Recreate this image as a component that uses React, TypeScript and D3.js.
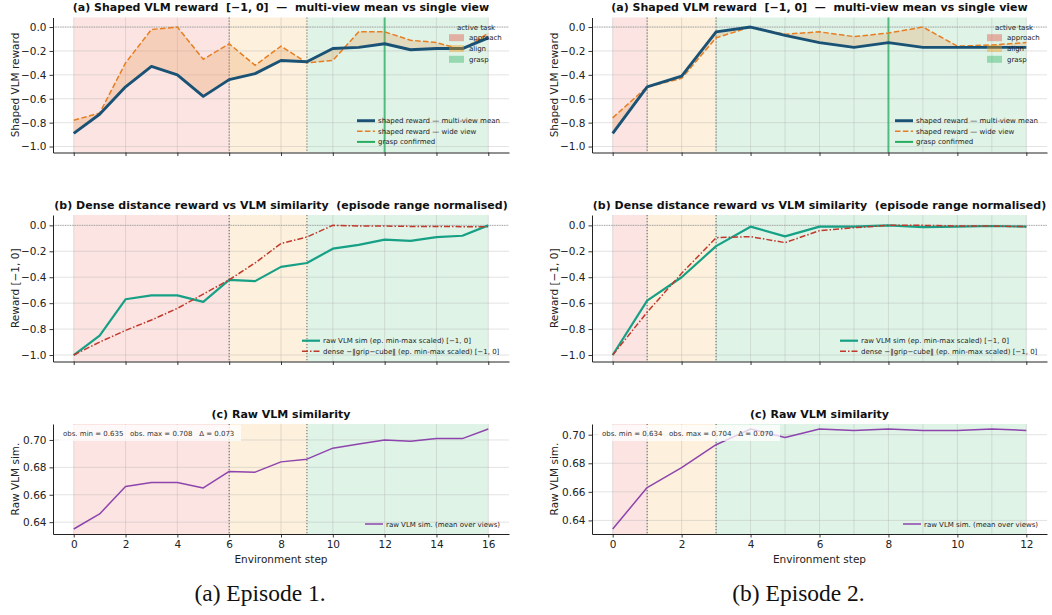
import React, { useEffect, useRef } from 'react';
import * as d3 from 'd3';

const W = 1052;
const H = 615;
const FONT = '"DejaVu Sans", sans-serif';

const phaseNames = ['approach', 'align', 'grasp'];
const phaseColors = ['#e74c3c', '#f39c12', '#27ae60'];

const rewardTicks = [-1.0, -0.8, -0.6, -0.4, -0.2, 0.0];
const simTicks = [0.64, 0.66, 0.68, 0.7];

// episode 1
const ep1StepTicks = [0, 2, 4, 6, 8, 10, 12, 14, 16];
const ep1GridSteps = [0, 2, 4, 6, 8, 10, 12, 14, 16];
const ep1PhaseEdges = [0, 6, 9, 16];
const ep1GraspStep = 12;
const ep1MeanReward = [-0.89, -0.73, -0.5, -0.33, -0.4, -0.58, -0.44, -0.39, -0.28, -0.29, -0.18, -0.17, -0.14, -0.19, -0.18, -0.18, -0.09];
const ep1WideReward = [-0.78, -0.72, -0.3, -0.02, 0.0, -0.27, -0.14, -0.32, -0.16, -0.3, -0.28, -0.04, -0.04, -0.11, -0.13, -0.19, -0.05];
const ep1VlmScaled = [-1.0, -0.85, -0.57, -0.54, -0.54, -0.59, -0.42, -0.43, -0.32, -0.29, -0.18, -0.15, -0.11, -0.12, -0.09, -0.08, 0.0];
const ep1DenseScaled = [-1.0, -0.9, -0.81, -0.73, -0.64, -0.53, -0.42, -0.29, -0.14, -0.09, 0.0, -0.005, -0.005, -0.008, -0.008, -0.01, -0.01];
const ep1RawSim = [0.635, 0.646, 0.666, 0.669, 0.669, 0.665, 0.677, 0.6765, 0.684, 0.686, 0.694, 0.697, 0.7, 0.699, 0.701, 0.701, 0.708];

// episode 2
const ep2StepTicks = [0, 2, 4, 6, 8, 10, 12];
const ep2GridSteps = [0, 1, 2, 3, 4, 5, 6, 7, 8, 9, 10, 11, 12];
const ep2PhaseEdges = [0, 1, 3, 12];
const ep2GraspStep = 8;
const ep2MeanReward = [-0.89, -0.5, -0.41, -0.04, 0.0, -0.07, -0.13, -0.17, -0.13, -0.17, -0.17, -0.17, -0.17];
const ep2WideReward = [-0.76, -0.5, -0.43, -0.09, 0.0, -0.06, -0.04, -0.08, -0.05, 0.0, -0.16, -0.15, -0.13];
const ep2VlmScaled = [-1.0, -0.58, -0.4, -0.16, -0.01, -0.085, -0.01, -0.01, 0.0, -0.013, -0.01, -0.005, -0.01];
const ep2DenseScaled = [-1.0, -0.67, -0.37, -0.095, -0.087, -0.133, -0.041, -0.018, 0.0, 0.0, -0.005, -0.005, -0.01];
const ep2RawSim = [0.634, 0.663, 0.677, 0.693, 0.704, 0.698, 0.704, 0.703, 0.704, 0.703, 0.703, 0.704, 0.703];

const episodes = [
  { caption: '(a) Episode 1.', ticks: ep1StepTicks, grid: ep1GridSteps, edges: ep1PhaseEdges, grasp: ep1GraspStep,
    mean: ep1MeanReward, wide: ep1WideReward, vlm: ep1VlmScaled, dense: ep1DenseScaled, raw: ep1RawSim, left: 53, right: 509 },
  { caption: '(b) Episode 2.', ticks: ep2StepTicks, grid: ep2GridSteps, edges: ep2PhaseEdges, grasp: ep2GraspStep,
    mean: ep2MeanReward, wide: ep2WideReward, vlm: ep2VlmScaled, dense: ep2DenseScaled, raw: ep2RawSim, left: 592, right: 1047 },
];

const rows = [
  { top: 17.5, bottom: 152.5, title: '(a) Shaped VLM reward  [\u22121, 0]  \u2014  multi-view mean vs single view', ylabel: 'Shaped VLM reward' },
  { top: 215, bottom: 361.5, title: '(b) Dense distance reward vs VLM similarity  (episode range normalised)', ylabel: 'Reward [\u22121, 0]' },
  { top: 424, bottom: 534, title: '(c) Raw VLM similarity', ylabel: 'Raw VLM sim.' },
];

const fmtMinus = (s: string) => s.replace('-', '\u2212');

function drawEpisode(svg: any, ep: any) {
  const n = ep.mean.length - 1;
  const x = d3.scaleLinear().domain([-0.05 * n, 1.05 * n]).range([ep.left, ep.right]);
  const cx = (ep.left + ep.right) / 2;

  rows.forEach((row, ri) => {
    const g = svg.append('g');
    let y: any;
    if (ri < 2) {
      y = d3.scaleLinear().domain([-1.05, 0.08]).range([row.bottom, row.top]);
    } else {
      const lo = d3.min(ep.raw) as number, hi = d3.max(ep.raw) as number;
      const pad = (hi - lo) * 0.05;
      y = d3.scaleLinear().domain([lo - pad, hi + pad]).range([row.bottom, row.top]);
    }
    const yTicks = ri < 2 ? rewardTicks : simTicks;

    // phase shading
    phaseNames.forEach((p, i) => {
      g.append('rect')
        .attr('x', x(ep.edges[i])).attr('y', row.top)
        .attr('width', x(ep.edges[i + 1]) - x(ep.edges[i]))
        .attr('height', row.bottom - row.top)
        .attr('fill', phaseColors[i]).attr('fill-opacity', 0.15);
    });

    // grid
    g.selectAll('.hg').data(yTicks).join('line')
      .attr('x1', ep.left).attr('x2', ep.right)
      .attr('y1', (d: number) => y(d)).attr('y2', (d: number) => y(d))
      .attr('stroke', '#b0b0b0').attr('stroke-opacity', 0.35).attr('stroke-width', 1);
    g.selectAll('.vg').data(ep.grid).join('line')
      .attr('x1', (d: number) => x(d)).attr('x2', (d: number) => x(d))
      .attr('y1', row.top).attr('y2', row.bottom)
      .attr('stroke', '#b0b0b0').attr('stroke-opacity', 0.35).attr('stroke-width', 1);

    // phase boundaries
    [ep.edges[1], ep.edges[2]].forEach((b: number) => {
      g.append('line').attr('x1', x(b)).attr('x2', x(b)).attr('y1', row.top).attr('y2', row.bottom)
        .attr('stroke', '#555').attr('stroke-width', 0.9).attr('stroke-dasharray', '1.2,1.8');
    });

    if (ri < 2) {
      g.append('line').attr('x1', ep.left).attr('x2', ep.right).attr('y1', y(0)).attr('y2', y(0))
        .attr('stroke', '#999').attr('stroke-width', 0.8).attr('stroke-dasharray', '1.2,1.2');
    }

    const line = (vals: number[]) => d3.line<number>().x((_, i) => x(i)).y(d => y(d))(vals);

    if (ri === 0) {
      g.append('line').attr('x1', x(ep.grasp)).attr('x2', x(ep.grasp)).attr('y1', row.top).attr('y2', row.bottom)
        .attr('stroke', '#27ae60').attr('stroke-opacity', 0.75).attr('stroke-width', 2);
      const area = d3.area<number>().x((_, i) => x(i)).y0((_, i) => y(ep.mean[i])).y1(d => y(d));
      g.append('path').attr('d', area(ep.wide)).attr('fill', '#e67e22').attr('fill-opacity', 0.2);
      g.append('path').attr('d', line(ep.wide)).attr('fill', 'none').attr('stroke', '#e67e22')
        .attr('stroke-width', 1.5).attr('stroke-dasharray', '5.5,2.4');
      g.append('path').attr('d', line(ep.mean)).attr('fill', 'none').attr('stroke', '#1a5276')
        .attr('stroke-width', 2.9).attr('stroke-linejoin', 'round');

      // active task legend
      const lx = ep.right - 60;
      g.append('text').attr('x', lx + 27).attr('y', 30).attr('text-anchor', 'middle')
        .attr('font-size', 7).attr('font-family', FONT).attr('fill', '#222').text('active task');
      phaseNames.forEach((p, i) => {
        const ry = 37.7 + i * 10.8;
        g.append('rect').attr('x', lx).attr('y', ry - 3.5).attr('width', 15).attr('height', 7)
          .attr('fill', phaseColors[i]).attr('fill-opacity', 0.4);
        g.append('text').attr('x', lx + 20).attr('y', ry + 2.5).attr('font-size', 7)
          .attr('font-family', FONT).attr('fill', '#222').text(p);
      });

      const items = [
        { label: 'shaped reward \u2014 multi-view mean', color: '#1a5276', w: 2.9, dash: null },
        { label: 'shaped reward \u2014 wide view', color: '#e67e22', w: 1.5, dash: '5.5,2.4' },
        { label: 'grasp confirmed', color: '#27ae60', w: 2, dash: null },
      ];
      drawLegend(g, items, ep.right - 152, 120.7);
    } else if (ri === 1) {
      g.append('path').attr('d', line(ep.vlm)).attr('fill', 'none').attr('stroke', '#16a085')
        .attr('stroke-width', 2.2).attr('stroke-linejoin', 'round');
      g.append('path').attr('d', line(ep.dense)).attr('fill', 'none').attr('stroke', '#c0392b')
        .attr('stroke-width', 1.5).attr('stroke-dasharray', '6,2,1.5,2');
      drawLegend(g, [
        { label: 'raw VLM sim (ep. min-max scaled) [\u22121, 0]', color: '#16a085', w: 2.2, dash: null },
        { label: 'dense \u2212\u2016grip\u2212cube\u2016 (ep. min-max scaled) [\u22121, 0]', color: '#c0392b', w: 1.5, dash: '6,2,1.5,2' },
      ], ep.right - 207, 340.7);
    } else {
      g.append('path').attr('d', line(ep.raw)).attr('fill', 'none').attr('stroke', '#8e44ad')
        .attr('stroke-width', 1.5).attr('stroke-linejoin', 'round');
      drawLegend(g, [{ label: 'raw VLM sim. (mean over views)', color: '#8e44ad', w: 1.5, dash: null }], ep.right - 144, 524);
      const lo = d3.min(ep.raw) as number, hi = d3.max(ep.raw) as number;
      const f = d3.format('.3f');
      g.append('rect').attr('x', ep.left + 6).attr('y', row.top + 1).attr('width', 182).attr('height', 16)
        .attr('fill', 'white').attr('fill-opacity', 0.75);
      g.append('text').attr('x', ep.left + 10).attr('y', row.top + 11.5).attr('font-size', 7)
        .attr('font-family', FONT).attr('fill', '#333').style('white-space', 'pre')
        .text(`obs. min = ${f(lo)}   obs. max = ${f(hi)}   \u0394 = ${f(hi - lo)}`);
    }

    // axes
    const yAxis = d3.axisLeft(y).tickValues(yTicks).tickSize(3.5).tickSizeOuter(0).tickPadding(3)
      .tickFormat((d: any) => fmtMinus(d3.format(ri < 2 ? '.1f' : '.2f')(d)));
    const ya = g.append('g').attr('transform', `translate(${ep.left},0)`).call(yAxis);
    const xAxis = d3.axisBottom(x).tickValues(ep.ticks).tickSize(3.5).tickSizeOuter(0).tickPadding(3.5)
      .tickFormat((d: any) => (ri === 2 ? String(d) : ''));
    const xa = g.append('g').attr('transform', `translate(0,${row.bottom})`).call(xAxis);
    [ya, xa].forEach(a => {
      a.selectAll('text').attr('font-size', 10.5).attr('font-family', FONT).attr('fill', '#222');
      a.selectAll('line').attr('stroke', '#222').attr('stroke-width', 0.9);
      a.select('.domain').attr('stroke', '#222').attr('stroke-width', 1);
    });

    g.append('text').attr('x', cx).attr('y', row.top - 6.5).attr('text-anchor', 'middle')
      .attr('font-size', 11).attr('font-weight', 'bold').attr('font-family', FONT).attr('fill', '#111')
      .style('white-space', 'pre').text(row.title);
    g.append('text').attr('transform', `translate(${ep.left - 38},${(row.top + row.bottom) / 2}) rotate(-90)`)
      .attr('text-anchor', 'middle').attr('dominant-baseline', 'central')
      .attr('font-size', 10.5).attr('font-family', FONT).attr('fill', '#222').text(row.ylabel);
  });

  svg.append('text').attr('x', cx).attr('y', 563).attr('text-anchor', 'middle')
    .attr('font-size', 10.5).attr('font-family', FONT).attr('fill', '#222').text('Environment step');
  svg.append('text').attr('x', (ep.left + ep.right) / 2 - 21).attr('y', 601).attr('text-anchor', 'middle')
    .attr('font-size', 23.5).attr('font-family', '"Liberation Serif", "Times New Roman", serif').attr('fill', '#111')
    .text(ep.caption);
}

function drawLegend(g: any, items: any[], x0: number, y0: number) {
  items.forEach((it, i) => {
    const yy = y0 + i * 10.6;
    const l = g.append('line').attr('x1', x0).attr('x2', x0 + 18).attr('y1', yy).attr('y2', yy)
      .attr('stroke', it.color).attr('stroke-width', it.w);
    if (it.dash) l.attr('stroke-dasharray', it.dash);
    g.append('text').attr('x', x0 + 21).attr('y', yy + 2.5).attr('font-size', 7)
      .attr('font-family', FONT).attr('fill', '#222').text(it.label);
  });
}

export default function App() {
  const ref = useRef<SVGSVGElement>(null);
  useEffect(() => {
    const svg = d3.select(ref.current);
    svg.selectAll('*').remove();
    svg.append('rect').attr('width', W).attr('height', H).attr('fill', 'white');
    episodes.forEach(ep => drawEpisode(svg, ep));
  }, []);
  return (
    <svg ref={ref} width={W} height={H} style={{ position: 'absolute', left: 0, top: 0 }} />
  );
}
